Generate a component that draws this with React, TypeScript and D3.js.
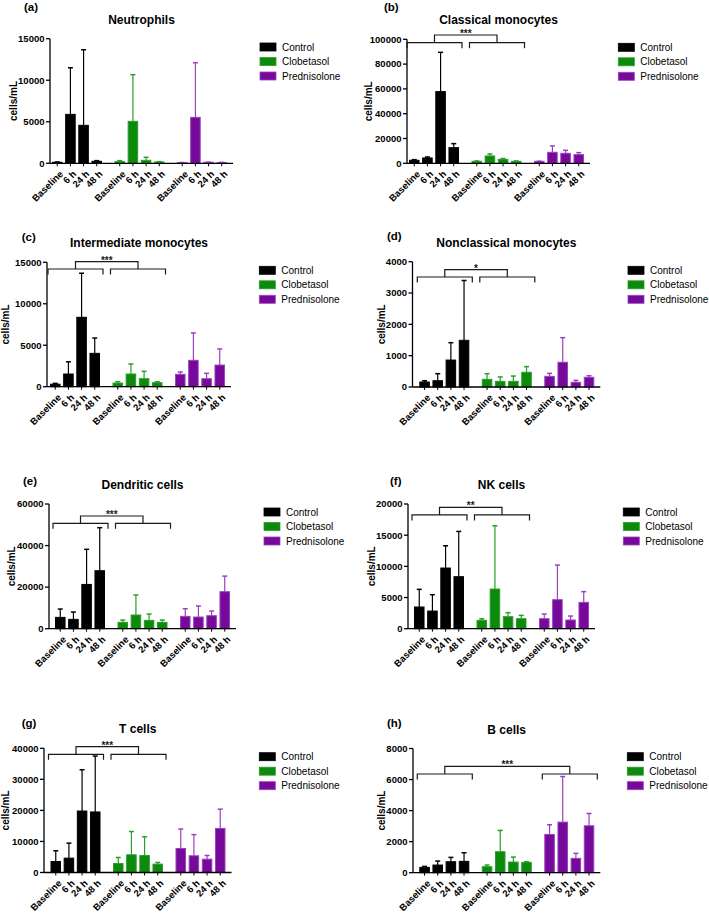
import React from "react";
import * as d3 from "d3";

const timepoints = ["Baseline", "6 h", "24 h", "48 h"];
const groups = ["Control", "Clobetasol", "Prednisolone"];

// mean values [Control, Clobetasol, Prednisolone] x timepoints
const neutrophilsMean = [[120, 5890, 4570, 240], [200, 5050, 360, 160], [80, 5530, 120, 80]];
const neutrophilsUpper = [[160, 11500, 13670, 320], [320, 10670, 720, 200], [90, 12110, 140, 110]];
const neutrophilsTicks = [0, 5000, 10000, 15000];

const classicalMean = [[2420, 4300, 57800, 12630], [1610, 5900, 3200, 1610], [1610, 8870, 8060, 7000]];
const classicalUpper = [[2960, 5100, 89500, 15860], [1900, 7500, 3800, 1900], [1700, 14000, 10480, 8600]];
const classicalTicks = [0, 20000, 40000, 60000, 80000, 100000];

const intermediateMean = [[300, 1530, 8370, 4020], [440, 1530, 965, 480], [1490, 3180, 965, 2610]];
const intermediateUpper = [[400, 3000, 13680, 5870], [600, 2740, 1850, 600], [1770, 6480, 1610, 4550]];
const intermediateTicks = [0, 5000, 10000, 15000];

const nonclassicalMean = [[160, 200, 860, 1490], [245, 180, 180, 470], [340, 790, 150, 310]];
const nonclassicalUpper = [[200, 425, 1415, 3400], [425, 320, 350, 650], [435, 1575, 210, 360]];
const nonclassicalTicks = [0, 1000, 2000, 3000, 4000];

const dendriticMean = [[5450, 4490, 21300, 27900], [3050, 6580, 4010, 3050], [5940, 5610, 6260, 17800]];
const dendriticUpper = [[9460, 8020, 38200, 48600], [4170, 16200, 7060, 4170], [9620, 10900, 8500, 25300]];
const dendriticTicks = [0, 20000, 40000, 60000];

const nkMean = [[3480, 2830, 9730, 8340], [1340, 6360, 1925, 1600], [1600, 4650, 1390, 4220]];
const nkUpper = [[6310, 5450, 13300, 15600], [1600, 16500, 2570, 2140], [2350, 10200, 2030, 5940]];
const nkTicks = [0, 5000, 10000, 15000, 20000];

const tMean = [[3550, 4620, 19800, 19500], [2900, 5700, 5480, 2690], [7740, 5380, 4300, 14200]];
const tUpper = [[6990, 9460, 33100, 37500], [4840, 13200, 11500, 3230], [14000, 12200, 5480, 20400]];
const tTicks = [0, 10000, 20000, 30000, 40000];

const bMean = [[343, 493, 707, 729], [386, 1350, 686, 664], [2465, 3258, 922, 3022]];
const bUpper = [[407, 750, 986, 1286], [493, 2722, 1007, 707], [3087, 6195, 1243, 3815]];
const bTicks = [0, 2000, 4000, 6000, 8000];

// significance: [groupA, groupB, label, bracketLevel, topLevel]
const sigClassical = [0, 1, "***", 97260, 103470];
const sigIntermediate = [0, 1, "***", 14190, 15070];
const sigNonclassical = [0, 1, "*", 3512, 3745];
const sigDendritic = [0, 1, "***", 50700, 54230];
const sigNK = [0, 1, "**", 18240, 19470];
const sigT = [0, 1, "***", 38070, 40520];
const sigB = [0, 2, "***", 6357, 6853];

const fills = ["#000000", "#0b8a0b", "#76089a"];
const strokes = ["#000000", "#2a9d2a", "#9a42be"];

const FONT = "'Liberation Sans', Arial, Helvetica, sans-serif";

const panels = [
  { tag: "(a)", title: "Neutrophils", mean: neutrophilsMean, upper: neutrophilsUpper, ticks: neutrophilsTicks, sig: null,
    lay: { lx: 24, ly: 10.5, ax: 50, top: 38.7, bottom: 163.3, bx: 52, legX: 260, legY: 47, ylx: 17 } },
  { tag: "(b)", title: "Classical monocytes", mean: classicalMean, upper: classicalUpper, ticks: classicalTicks, sig: sigClassical,
    lay: { lx: 384, ly: 10.5, ax: 407, top: 39.3, bottom: 163.3, bx: 409, legX: 618.3, legY: 47.3, ylx: 371.6 } },
  { tag: "(c)", title: "Intermediate monocytes", mean: intermediateMean, upper: intermediateUpper, ticks: intermediateTicks, sig: sigIntermediate,
    lay: { lx: 21.7, ly: 240.5, ax: 47, top: 262.3, bottom: 386.7, bx: 50, legX: 259.3, legY: 270.3, ylx: 8.6 } },
  { tag: "(d)", title: "Nonclassical monocytes", mean: nonclassicalMean, upper: nonclassicalUpper, ticks: nonclassicalTicks, sig: sigNonclassical,
    lay: { lx: 387, ly: 239.5, ax: 412.5, top: 261.7, bottom: 387, bx: 419.3, legX: 628, legY: 270.3, ylx: 384.6 } },
  { tag: "(e)", title: "Dendritic cells", mean: dendriticMean, upper: dendriticUpper, ticks: dendriticTicks, sig: sigDendritic,
    lay: { lx: 23, ly: 485, ax: 49, top: 504, bottom: 628.7, bx: 55, legX: 264, legY: 512, ylx: 15.3 } },
  { tag: "(f)", title: "NK cells", mean: nkMean, upper: nkUpper, ticks: nkTicks, sig: sigNK,
    lay: { lx: 390, ly: 484.5, ax: 408, top: 504, bottom: 628.7, bx: 414, legX: 623.3, legY: 512, ylx: 374.6 } },
  { tag: "(g)", title: "T cells", mean: tMean, upper: tUpper, ticks: tTicks, sig: sigT,
    lay: { lx: 21.7, ly: 726.5, ax: 44, top: 748.3, bottom: 872.5, bx: 50.5, legX: 259.3, legY: 756.7, ylx: 8.6 } },
  { tag: "(h)", title: "B cells", mean: bMean, upper: bUpper, ticks: bTicks, sig: sigB,
    lay: { lx: 387, ly: 726.5, ax: 413, top: 748.5, bottom: 872.7, bx: 419.3, legX: 627.3, legY: 756.7, ylx: 384.6 } },
];

const SPAN = 175;

function Panel({ p }: { p: any }) {
  const L = p.lay;
  const ticks: number[] = p.ticks;
  const y = d3.scaleLinear().domain([0, ticks[ticks.length - 1]]).range([L.bottom, L.top]);
  const gx = d3.scaleBand().domain(groups).range([L.bx, L.bx + SPAN]).paddingInner(0.2).paddingOuter(0);
  const tx = d3.scaleBand().domain(timepoints).range([0, gx.bandwidth()]).paddingInner(0.2).paddingOuter(0);
  const axisEnd = L.bx + SPAN + 6;
  const bw = tx.bandwidth();

  const bars: any[] = [];
  groups.forEach((g, gi) => {
    timepoints.forEach((t, ti) => {
      const x0 = (gx(g) as number) + (tx(t) as number);
      bars.push({ gi, ti, x0, cx: x0 + bw / 2, v: p.mean[gi][ti], u: p.upper[gi][ti], t });
    });
  });

  let sigEl = null;
  if (p.sig) {
    const [ga, gb, lab, lvl, topLvl] = p.sig;
    const yb = y(lvl);
    const yt = y(topLvl);
    const br = (gi: number) => {
      const s = (gx(groups[gi]) as number) - 2;
      const e = s + gx.bandwidth() + 5;
      return [s, e];
    };
    const [a0, a1] = br(ga);
    const [b0, b1] = br(gb);
    const am = (a0 + a1) / 2;
    const bm = (b0 + b1) / 2;
    const col = "#1a1a1a";
    sigEl = (
      <g stroke={col} strokeWidth={1.2} fill="none">
        <path d={`M${a0},${yb + 5.5}V${yb}H${a1}V${yb + 5.5}`} />
        <path d={`M${b0},${yb + 5.5}V${yb}H${b1}V${yb + 5.5}`} />
        <path d={`M${am},${yb}V${yt}H${bm}V${yb}`} />
        <text x={(am + bm) / 2} y={yt + 2} textAnchor="middle" fontSize={10} fontWeight="bold"
          fill={col} stroke="none" fontFamily={FONT}>{lab}</text>
      </g>
    );
  }

  return (
    <g>
      <text x={L.lx} y={L.ly} fontSize={11.5} fontWeight="bold" fontFamily={FONT}>{p.tag}</text>
      <text x={(L.ax + axisEnd) / 2} y={L.top - 15} textAnchor="middle" fontSize={12} fontWeight="bold" fontFamily={FONT}>{p.title}</text>
      <text transform={`translate(${L.ylx},${(L.top + L.bottom) / 2}) rotate(-90)`} textAnchor="middle"
        fontSize={10} fontWeight="bold" fontFamily={FONT}>cells/mL</text>
      {/* bars */}
      {bars.map((b, i) => {
        const yv = y(b.v);
        const yu = y(b.u);
        return (
          <g key={i}>
            <line x1={b.cx} x2={b.cx} y1={yv} y2={yu} stroke={strokes[b.gi]} strokeWidth={1.2} />
            <line x1={b.cx - 2.5} x2={b.cx + 2.5} y1={yu} y2={yu} stroke={strokes[b.gi]} strokeWidth={1.5} />
            <rect x={b.x0 + 0.5} y={yv} width={bw - 1} height={Math.max(0, L.bottom - yv)}
              fill={fills[b.gi]} stroke={strokes[b.gi]} strokeWidth={1} />
          </g>
        );
      })}
      {/* y axis */}
      <line x1={L.ax} x2={L.ax} y1={L.top} y2={L.bottom} stroke="#000" strokeWidth={1.3} />
      {ticks.map((t) => (
        <g key={t}>
          <line x1={L.ax - 4} x2={L.ax} y1={y(t)} y2={y(t)} stroke="#000" strokeWidth={1.3} />
          <text x={L.ax - 5.5} y={y(t)} dy="0.35em" textAnchor="end" fontSize={9.5} fontWeight="bold" fontFamily={FONT}>{t}</text>
        </g>
      ))}
      {/* x axis */}
      <line x1={L.ax} x2={axisEnd} y1={L.bottom} y2={L.bottom} stroke="#000" strokeWidth={1.3} />
      {bars.map((b, i) => (
        <g key={"xt" + i}>
          <line x1={b.cx} x2={b.cx} y1={L.bottom} y2={L.bottom + 3} stroke="#000" strokeWidth={1} />
          <text transform={`translate(${b.cx + 4},${L.bottom + 9}) rotate(-45)`} dy="0.35em" textAnchor="end"
            fontSize={9.5} fontWeight="bold" fontFamily={FONT}>{b.t}</text>
        </g>
      ))}
      {sigEl}
      {/* legend */}
      {groups.map((g, gi) => (
        <g key={g}>
          <rect x={L.legX} y={L.legY + gi * 14.5 - 4} width={16} height={8} fill={fills[gi]} stroke={strokes[gi]} strokeWidth={0.8} />
          <text x={L.legX + 22} y={L.legY + gi * 14.5} dy="0.35em" fontSize={10} fontFamily={FONT}>{g}</text>
        </g>
      ))}
    </g>
  );
}

export default function App() {
  return (
    <svg width={709} height={914} viewBox="0 0 709 914"
      style={{ position: "absolute", left: 0, top: 0, background: "#fff" }}>
      <rect width={709} height={914} fill="#fff" />
      {panels.map((p) => <Panel key={p.tag} p={p} />)}
    </svg>
  );
}
